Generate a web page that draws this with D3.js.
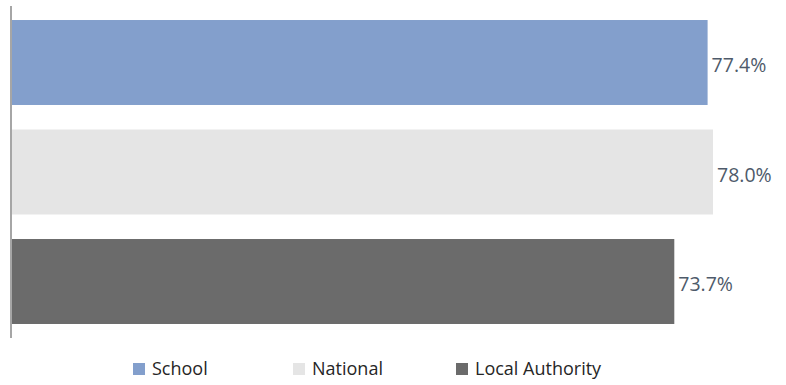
<!DOCTYPE html>
<html>
<head>
<meta charset="utf-8">
<script src="https://cdn.jsdelivr.net/npm/d3@7"></script>
<style>
  html, body { margin: 0; padding: 0; background: #fff; }
  svg { display: block; font-family: "Open Sans", sans-serif; }
</style>
</head>
<body>
<svg id="chart" width="786" height="385"></svg>
<script>
// Attendance-style comparison, one bar per group
const categories = ["School", "National", "Local Authority"];
const values = [77.4, 78.0, 73.7];
const colors = ["#839fcc", "#e5e5e5", "#6b6b6b"];

const svg = d3.select("#chart");

const x = d3.scaleLinear().domain([0, 100]).range([11, 911]);
const y = d3.scaleBand().domain(categories).range([7.75, 336.25]).paddingInner(0.224).paddingOuter(0.112);

// bars
svg.selectAll("rect.bar")
  .data(categories)
  .join("rect")
  .attr("class", "bar")
  .attr("x", x(0))
  .attr("y", d => y(d))
  .attr("width", (d, i) => x(values[i]) - x(0))
  .attr("height", y.bandwidth())
  .attr("fill", (d, i) => colors[i]);

// vertical category axis line
svg.append("line")
  .attr("x1", x(0)).attr("x2", x(0))
  .attr("y1", 6).attr("y2", 338)
  .attr("stroke", "#a6a6a6")
  .attr("stroke-width", 2);

// value labels
svg.selectAll("text.val")
  .data(categories)
  .join("text")
  .attr("class", "val")
  .attr("x", (d, i) => x(values[i]) + 4)
  .attr("y", d => y(d) + y.bandwidth() / 2 + 9.5)
  .attr("font-size", 19.5)
  .attr("fill", "#4e5a6a")
  .text((d, i) => values[i].toFixed(1) + "%");

// legend
const legendX = [133, 293, 456];
const lg = svg.selectAll("g.leg")
  .data(categories)
  .join("g")
  .attr("class", "leg")
  .attr("transform", (d, i) => `translate(${legendX[i]},363)`);
lg.append("rect")
  .attr("width", 12).attr("height", 12)
  .attr("fill", (d, i) => colors[i]);
lg.append("text")
  .attr("x", 19)
  .attr("y", 6)
  .attr("dy", "0.36em")
  .attr("font-size", 18)
  .attr("fill", "#262626")
  .text(d => d);
</script>
</body>
</html>
